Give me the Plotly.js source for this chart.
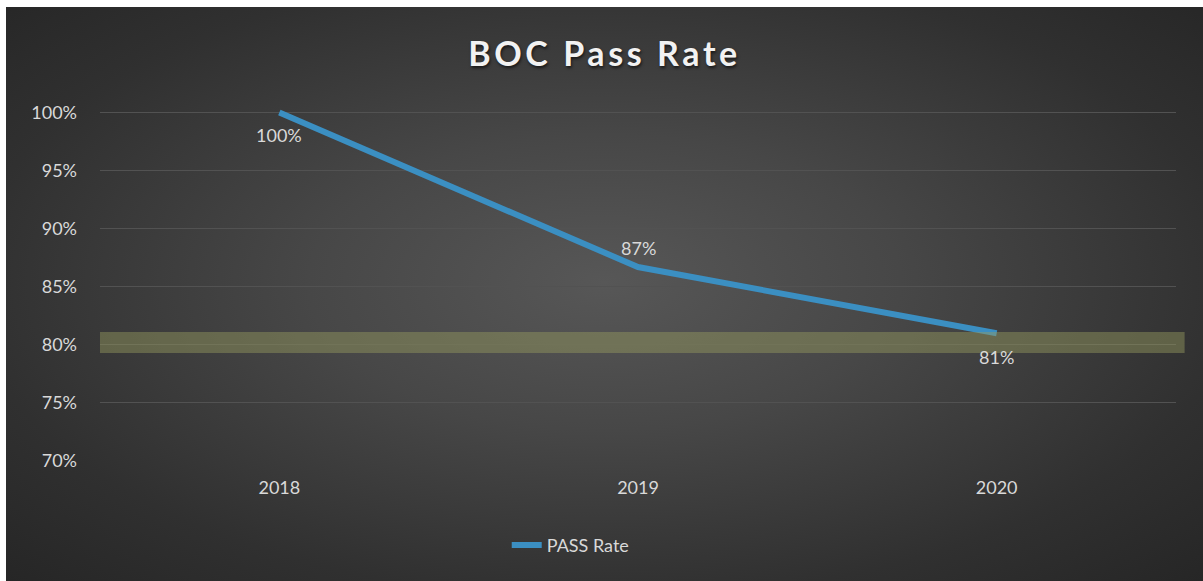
<!DOCTYPE html>
<html>
<head>
<meta charset="utf-8">
<script src="https://cdn.plot.ly/plotly-3.0.1.min.js"></script>
<style>
  html, body { margin: 0; padding: 0; background: #ffffff; width: 1203px; height: 581px; overflow: hidden; }
  #chart {
    position: absolute; left: 6px; top: 7px; width: 1197px; height: 574px;
    background: radial-gradient(ellipse farthest-corner at 50% 48%, #575757 0%, #474747 35%, #303030 75%, #262626 100%);
  }
  #chart .gtitle { letter-spacing: 3.6px; }
</style>
</head>
<body>
<div id="chart"></div>
<script>
// ---- data ----
var years = ['2018', '2019', '2020'];
var passRate = [100, 86.7, 81.0];
var passLabels = ['100%', '87%', '81%'];
var labelShifts = [-22, 19, -24];   // label offset below (-) / above (+) each point
var seriesName = 'PASS Rate';
var targetBand = [79.3, 81.1];
var yTicks = [70, 75, 80, 85, 90, 95, 100];
var yTickLabels = ['70%', '75%', '80%', '85%', '90%', '95%', '100%'];

var labelFont = { family: 'Lato, "Open Sans", sans-serif', size: 18, color: '#d9d9d9' };

var trace = {
  type: 'scatter',
  mode: 'lines',
  x: years,
  y: passRate,
  name: seriesName,
  line: { color: '#3b8fc2', width: 6 },
  hoverinfo: 'skip'
};

var annotations = years.map(function (yr, i) {
  return {
    x: i, y: passRate[i], xref: 'x', yref: 'y',
    text: passLabels[i],
    showarrow: false,
    yshift: labelShifts[i],
    xanchor: 'center', yanchor: 'middle',
    font: labelFont
  };
});

var layout = {
  width: 1197,
  height: 574,
  paper_bgcolor: 'rgba(0,0,0,0)',
  plot_bgcolor: 'rgba(0,0,0,0)',
  margin: { l: 94, r: 27, t: 94, b: 120 },
  title: {
    text: '<b>BOC Pass Rate</b>',
    font: { family: 'Lato, "Open Sans", sans-serif', size: 34, color: '#f2f2f2', shadow: '1px 2px 3px rgba(0,0,0,0.6)' },
    x: 0.5, xanchor: 'center',
    y: 0.918, yanchor: 'middle'
  },
  xaxis: {
    type: 'category',
    range: [-0.5, 2.5],
    showgrid: false,
    zeroline: false,
    showline: false,
    ticks: '',
    ticklabelstandoff: 14,
    tickfont: labelFont,
    fixedrange: true
  },
  yaxis: {
    range: [70, 101],
    tickvals: yTicks,
    ticktext: yTickLabels,
    showgrid: true,
    gridcolor: '#525252',
    gridwidth: 1,
    zeroline: false,
    showline: false,
    ticks: '',
    ticklabelstandoff: 22,
    tickfont: labelFont,
    fixedrange: true
  },
  annotations: annotations,
  shapes: [{
    type: 'rect',
    xref: 'paper', yref: 'y',
    x0: 0, x1: 1.008,
    y0: targetBand[0], y1: targetBand[1],
    fillcolor: 'rgba(150,156,95,0.45)',
    line: { width: 0 },
    layer: 'above'
  }],
  showlegend: true,
  legend: {
    orientation: 'h',
    x: 0.378, xanchor: 'left',
    y: -0.234, yanchor: 'middle',
    font: labelFont,
    bgcolor: 'rgba(0,0,0,0)'
  }
};

Plotly.newPlot('chart', [trace], layout, { displayModeBar: false, staticPlot: true });
</script>
</body>
</html>
